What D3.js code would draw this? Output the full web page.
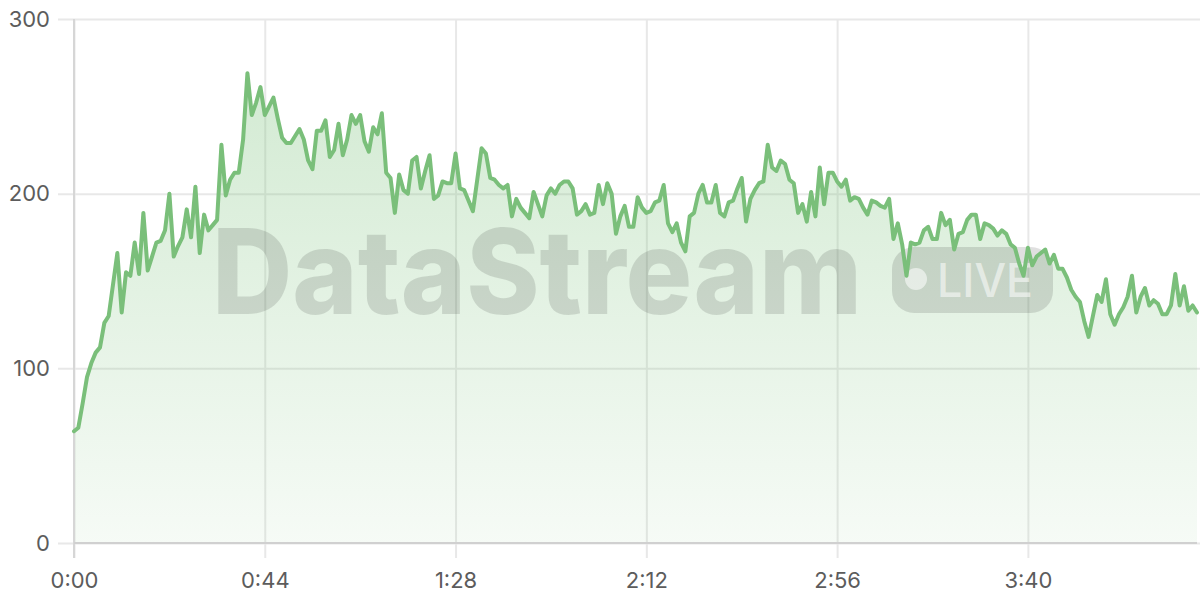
<!DOCTYPE html>
<html>
<head>
<meta charset="utf-8">
<script src="https://cdn.jsdelivr.net/npm/d3@7"></script>
<style>
  html, body { margin: 0; padding: 0; background: #fff; }
  svg { display: block; }
</style>
</head>
<body>
<svg id="chart" width="1200" height="600"></svg>
<script>
// ---- data (one value per second) ----
const values = [
  64, 66, 80, 95, 103, 109, 112, 126, 130, 148,
  166, 132, 155, 153, 172, 154, 189, 156, 164, 172,
  173, 179, 200, 164, 170, 175, 191, 175, 204, 166,
  188, 179, 182, 185, 228, 199, 208, 212, 212, 231,
  269, 245, 252, 261, 245, 250, 255, 243, 232, 229,
  229, 233, 237, 231, 219, 214, 236, 236, 242, 221,
  225, 240, 222, 231, 245, 240, 245, 230, 224, 238,
  234, 246, 212, 209, 189, 211, 202, 200, 219, 221,
  203, 213, 222, 197, 199, 207, 206, 206, 223, 203,
  202, 196, 190, 208, 226, 223, 209, 208, 205, 203,
  205, 187, 197, 192, 189, 186, 201, 194, 187, 199,
  203, 200, 205, 207, 207, 203, 188, 190, 194, 188,
  189, 205, 194, 206, 200, 177, 187, 193, 181, 181,
  198, 192, 189, 190, 195, 196, 205, 183, 178, 183,
  172, 167, 187, 189, 200, 205, 195, 195, 205, 189,
  187, 195, 196, 203, 209, 184, 197, 202, 206, 207,
  228, 215, 213, 219, 217, 208, 206, 189, 194, 184,
  201, 187, 215, 194, 212, 212, 207, 204, 208, 196,
  198, 197, 192, 188, 196, 195, 193, 192, 197, 174,
  183, 171, 153, 172, 171, 172, 179, 181, 174, 174,
  189, 182, 185, 168, 177, 178, 185, 188, 188, 174,
  183, 182, 180, 176, 179, 177, 171, 169, 160, 153,
  169, 159, 164, 166, 168, 160, 165, 157, 157, 152,
  145, 141, 138, 127, 118, 130, 142, 138, 151, 131,
  125, 131, 135, 141, 153, 132, 141, 146, 136, 139,
  137, 131, 131, 136, 154, 136, 147, 133, 136, 132
];
const xTicks = [0, 44, 88, 132, 176, 220];
const yTicks = [0, 100, 200, 300];
const watermarkText = "DataStream";
const liveText = "LIVE";

const data = values.map((v, i) => ({ t: i, v }));

// ---- layout ----
const svg = d3.select("#chart");
const W = 1200, H = 600;
const mLeft = 74, mRight = 1197, mTop = 19, mBottom = 543;

const x = d3.scaleLinear().domain([0, values.length - 1]).range([mLeft, mRight]);
const y = d3.scaleLinear().domain([0, 300]).range([mBottom, mTop]);

const fmt = s => `${Math.floor(s / 60)}:${String(s % 60).padStart(2, "0")}`;

// gradient
const defs = svg.append("defs");
const grad = defs.append("linearGradient").attr("id", "areaGrad")
  .attr("gradientUnits", "userSpaceOnUse")
  .attr("x1", 0).attr("y1", y(270)).attr("x2", 0).attr("y2", y(0));
grad.append("stop").attr("offset", "0%").attr("stop-color", "#7cc27c").attr("stop-opacity", 0.34);
grad.append("stop").attr("offset", "100%").attr("stop-color", "#7cc27c").attr("stop-opacity", 0.07);

// horizontal grid + y labels
const yAxis = d3.axisLeft(y).tickValues(yTicks).tickSize(-(W - mLeft)).tickPadding(8);
const gy = svg.append("g").attr("transform", `translate(${mLeft},0)`).call(yAxis);
gy.select(".domain").remove();
gy.selectAll(".tick line").attr("stroke", "#e8e8e8").attr("stroke-width", 2).attr("x1", -16);
gy.selectAll(".tick text")
  .attr("x", -24)
  .attr("fill", "#5c5c5c").style("font-family", "Inter, 'Noto Sans', sans-serif")
  .style("font-size", "22px");

// vertical grid + x labels
const xAxis = d3.axisBottom(x).tickValues(xTicks).tickFormat(fmt).tickSize(0).tickPadding(0);
const gx = svg.append("g").attr("transform", `translate(0,${mBottom})`).call(xAxis);
gx.select(".domain").remove();
gx.selectAll(".tick line").attr("y1", -(mBottom - mTop)).attr("y2", 15)
  .attr("stroke", "#e8e8e8").attr("stroke-width", 2);
gx.selectAll(".tick text")
  .attr("y", 45).attr("dy", 0)
  .attr("fill", "#5c5c5c").style("font-family", "Inter, 'Noto Sans', sans-serif")
  .style("font-size", "22px");

// area
const area = d3.area().x(d => x(d.t)).y0(y(0)).y1(d => y(d.v));
svg.append("path").datum(data).attr("d", area).attr("fill", "url(#areaGrad)");

// axis lines
svg.append("line").attr("x1", mLeft).attr("x2", mLeft).attr("y1", mTop).attr("y2", mBottom + 15)
  .attr("stroke", "#d6d6d6").attr("stroke-width", 2);
svg.append("line").attr("x1", mLeft).attr("x2", mRight).attr("y1", mBottom).attr("y2", mBottom)
  .attr("stroke", "#d0d0d0").attr("stroke-width", 2);

// watermark
const wm = svg.append("g").attr("pointer-events", "none");
wm.append("text")
  .attr("x", 212).attr("y", 314)
  .attr("textLength", 650).attr("lengthAdjust", "spacingAndGlyphs")
  .style("font-family", "Inter, Roboto, 'DejaVu Sans', sans-serif")
  .style("font-weight", 800).style("font-size", "118px")
  .attr("fill", "#000").attr("fill-opacity", 0.12)
  .text(watermarkText);
wm.append("rect").attr("x", 892).attr("y", 247).attr("width", 161).attr("height", 66)
  .attr("rx", 22).attr("fill", "#000").attr("fill-opacity", 0.12);
wm.append("circle").attr("cx", 916).attr("cy", 279).attr("r", 11)
  .attr("fill", "#fff").attr("fill-opacity", 0.55);
wm.append("text")
  .attr("x", 937).attr("y", 297)
  .attr("textLength", 96).attr("lengthAdjust", "spacingAndGlyphs")
  .style("font-family", "Inter, Roboto, 'DejaVu Sans', sans-serif")
  .style("font-weight", 500).style("font-size", "46px")
  .attr("fill", "#fff").attr("fill-opacity", 0.55)
  .text(liveText);

// line
const line = d3.line().x(d => x(d.t)).y(d => y(d.v));
svg.append("path").datum(data).attr("d", line)
  .attr("fill", "none").attr("stroke", "#7abf7a").attr("stroke-width", 4)
  .attr("stroke-linejoin", "round").attr("stroke-linecap", "round");
</script>
</body>
</html>
